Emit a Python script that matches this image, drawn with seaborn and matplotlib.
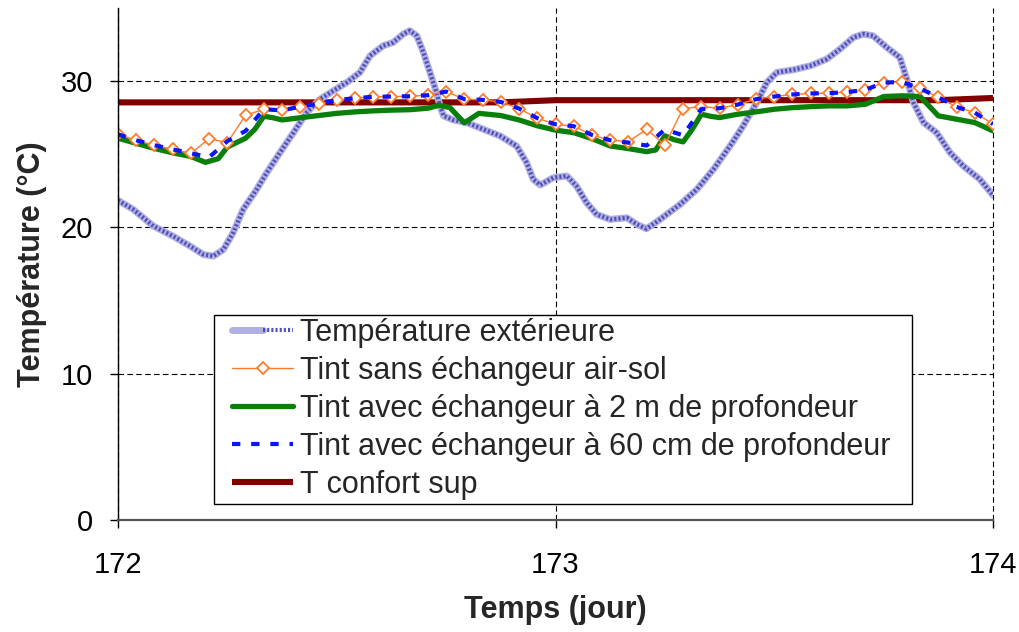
import numpy as np
import pandas as pd
import matplotlib
matplotlib.use('Agg')
import matplotlib.pyplot as plt
from matplotlib.legend_handler import HandlerTuple
from matplotlib.patches import Rectangle
import seaborn as sns

sns.set_style('white')
plt.rcParams['font.family'] = ['Liberation Sans', 'DejaVu Sans']

# colors
colors = {
    'ext': '#b0b0e2',
    'ext_dots': '#5050b8',
    'orange': '#ff7a2a',
    'green': '#0a800a',
    'blue': '#0a14ff',
    'red': '#800000',
}

# data (time axis in days)
jour_debut = 172
heures = np.arange(49)  # hourly steps over two days

# outdoor temperature: offsets in days from day 172
t_ext = [0.0, 0.035, 0.081, 0.126, 0.165, 0.195, 0.218, 0.241, 0.263, 0.286,
         0.317, 0.340, 0.370, 0.401, 0.431, 0.462, 0.492, 0.523, 0.553, 0.576,
         0.606, 0.629, 0.652, 0.667, 0.683, 0.698, 0.713, 0.728, 0.736, 0.744,
         0.766, 0.797, 0.835, 0.873, 0.911, 0.934, 0.949, 0.965, 0.995, 1.026,
         1.048, 1.071, 1.094, 1.125, 1.163, 1.186, 1.208, 1.239, 1.285, 1.323,
         1.361, 1.399, 1.429, 1.460, 1.483, 1.506, 1.544, 1.582, 1.620, 1.650,
         1.681, 1.704, 1.726, 1.757, 1.787, 1.803, 1.818, 1.841, 1.871, 1.902,
         1.932, 1.970, 2.0]
temp_ext = [21.85, 21.23, 20.09, 19.4, 18.72, 18.15, 18.04, 18.49, 19.63, 21.23,
            22.6, 23.74, 25.11, 26.48, 27.85, 28.77, 29.34, 29.91, 30.6, 31.73,
            32.42, 32.65, 33.22, 33.45, 33.1, 31.96, 30.6, 29.22, 28.31, 27.63,
            27.35, 27.17, 26.71, 26.26, 25.57, 24.43, 23.29, 22.9, 23.4, 23.52,
            22.83, 21.69, 20.89, 20.55, 20.66, 20.21, 19.91, 20.55, 21.58, 22.6,
            23.97, 25.57, 26.94, 28.54, 29.91, 30.6, 30.78, 31.05, 31.51, 32.19,
            32.99, 33.22, 33.1, 32.31, 31.62, 30.14, 28.54, 27.17, 26.48, 25.11,
            24.2, 23.29, 22.2]

# hourly indoor temperature without exchanger
tint_sans = [26.37, 25.96, 25.62, 25.34, 25.07, 26.07, 25.8, 27.67, 28.08, 28.0,
             28.26, 28.47, 28.7, 28.84, 28.93, 28.95, 28.97, 29.04, 29.29, 28.77,
             28.72, 28.58, 28.13, 27.47, 27.05, 26.92, 26.32, 25.96, 25.87, 26.71,
             25.64, 28.13, 28.26, 28.15, 28.4, 28.77, 28.95, 29.09, 29.16, 29.18,
             29.25, 29.41, 29.9, 29.95, 29.5, 28.9, 28.24, 27.85, 27.07]

# hourly indoor temperature, exchanger at 60 cm
tint_60cm = [26.37, 25.96, 25.62, 25.34, 25.07, 24.8, 25.9, 26.6, 28.08, 28.0,
             28.26, 28.47, 28.7, 28.84, 28.93, 28.95, 28.97, 29.04, 29.29, 28.77,
             28.72, 28.58, 28.13, 27.47, 27.05, 26.92, 26.32, 25.96, 25.8, 25.6,
             26.7, 26.3, 28.1, 28.15, 28.4, 28.77, 28.95, 29.09, 29.16, 29.18,
             29.25, 29.41, 29.9, 29.95, 29.5, 28.9, 28.24, 27.85, 27.07]

# indoor temperature, exchanger at 2 m (offsets in hours)
h_2m = [0, 1, 2, 3, 4, 4.8, 5.5, 6, 7, 7.5, 8, 8.5, 9, 10, 11, 12, 13, 14, 15,
        16, 17, 17.6, 18.2, 19, 19.8, 21, 22, 23, 24, 25, 26, 27, 28, 29, 29.5,
        30, 30.5, 31, 31.5, 32, 32.5, 33, 34, 35, 36, 37, 38, 39, 40, 41, 42,
        43, 44, 45, 46, 47, 48]
tint_2m = [26.1, 25.75, 25.4, 25.1, 24.85, 24.45, 24.7, 25.5, 26.1, 26.7, 27.6,
           27.5, 27.35, 27.5, 27.65, 27.8, 27.9, 27.97, 28.02, 28.05, 28.15, 28.35,
           28.2, 27.15, 27.8, 27.65, 27.35, 26.95, 26.65, 26.48, 26.07, 25.57,
           25.39, 25.18, 25.3, 26.26, 26.0, 25.85, 26.71, 27.74, 27.6, 27.51, 27.74,
           27.9, 28.08, 28.19, 28.26, 28.31, 28.31, 28.42, 28.95, 29.0, 28.95,
           27.63, 27.4, 27.17, 26.6]

# upper comfort temperature (hourly)
t_confort = [28.55] * 22 + [28.6, 28.65] + [28.7] * 22 + [28.75, 28.8, 28.85]

labels = ['Température extérieure',
          'Tint sans échangeur air-sol',
          'Tint avec échangeur à 2 m de profondeur',
          'Tint avec échangeur à 60 cm de profondeur',
          'T confort sup']

x_heures = jour_debut + heures / 24
x_ext = jour_debut + np.array(t_ext)
x_2m = jour_debut + np.array(h_2m) / 24

fig = plt.figure(figsize=(10.19, 6.32), dpi=100)
ax = fig.add_axes([0.1158, 0.1772, 0.8587, 0.8101])

sns.lineplot(x=x_heures, y=t_confort, ax=ax, color=colors['red'], lw=4.4,
             solid_capstyle='butt')
l_red = ax.lines[-1]
sns.lineplot(x=x_ext, y=temp_ext, ax=ax, color=colors['ext'], lw=5)
l_ext = ax.lines[-1]
sns.lineplot(x=x_ext, y=temp_ext, ax=ax, color=colors['ext_dots'], lw=3,
             linestyle=(0, (0.5, 0.5)))
l_ext_dots = ax.lines[-1]
sns.lineplot(x=x_2m, y=tint_2m, ax=ax, color=colors['green'], lw=3.8)
l_green = ax.lines[-1]
sns.lineplot(x=x_heures, y=tint_sans, ax=ax, color=colors['orange'], lw=1,
             marker='D', markersize=6, markerfacecolor='white',
             markeredgecolor=colors['orange'], markeredgewidth=1.3)
l_orange = ax.lines[-1]
sns.lineplot(x=x_heures, y=tint_60cm, ax=ax, color=colors['blue'], lw=3,
             linestyle=(0, (2, 2.6)), dash_capstyle='butt')
l_blue = ax.lines[-1]

ax.set_xlim(172, 174)
ax.set_ylim(0, 35)
ax.set_xticks([172, 173, 174])
ax.set_xticklabels(['172', '173', '174'])
ax.set_yticks([0, 10, 20, 30])

ax.grid(True, color='black', linestyle=(0, (5, 3)), lw=0.8)
ax.set_axisbelow(True)
for g in ax.get_xgridlines():
    g.set_clip_on(False)
for s in ['top', 'right']:
    ax.spines[s].set_visible(False)
ax.spines['left'].set_color('black')
ax.spines['left'].set_linewidth(1)
ax.spines['bottom'].set_color('#555555')
ax.spines['bottom'].set_linewidth(1.6)

ax.tick_params(axis='both', bottom=True, left=True, direction='out', length=6,
               width=1, color='black', labelsize=21, labelcolor='black')
ax.tick_params(axis='x', pad=16)
ax.tick_params(axis='y', pad=12)

ax.set_xlabel('Temps (jour)', fontsize=22, fontweight='bold', labelpad=12)
ax.set_ylabel('Température (°C)', fontsize=22, fontweight='bold', labelpad=10)

# legend box drawn separately so its padding matches the original
ax.add_patch(Rectangle((0.1097, 0.03125), 0.7977, 0.3692, transform=ax.transAxes,
                       facecolor='white', edgecolor='black', lw=1, zorder=4))

handles = [(l_ext, l_ext_dots), l_orange, l_green, l_blue, l_red]
leg = ax.legend(handles, labels, loc='center left', bbox_to_anchor=(0.1303, 0.2168),
                borderaxespad=0, fontsize=22, frameon=False, handlelength=2.0,
                handletextpad=0.23, labelspacing=0.26, borderpad=0,
                handler_map={tuple: HandlerTuple(ndivide=None)})
leg.set_zorder(5)

fig.savefig('out.png', dpi=100)
